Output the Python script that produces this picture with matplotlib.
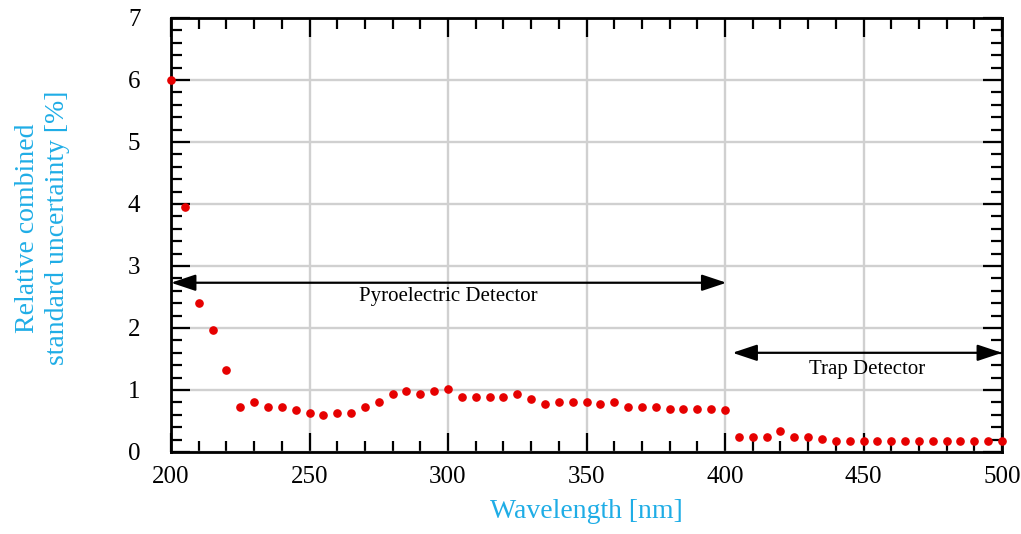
#!/usr/bin/env python3

# Relative combined standard uncertainty vs wavelength, pyroelectric and trap detector ranges.

import matplotlib
matplotlib.use('Agg')
import matplotlib.pyplot as plt
from matplotlib.ticker import MultipleLocator

wavelength = list(range(200, 505, 5))
uncertainty = [6.00, 3.95, 2.40, 1.97, 1.32, 0.72, 0.81, 0.72, 0.72, 0.68,
               0.63, 0.59, 0.63, 0.63, 0.72, 0.81, 0.93, 0.98, 0.93, 0.98,
               1.02, 0.89, 0.89, 0.89, 0.89, 0.93, 0.85, 0.77, 0.81, 0.81,
               0.81, 0.77, 0.81, 0.73, 0.73, 0.73, 0.69, 0.69, 0.69, 0.69,
               0.68, 0.25, 0.25, 0.25, 0.34, 0.25, 0.24, 0.21, 0.17, 0.17,
               0.17, 0.17, 0.17, 0.17, 0.17, 0.17, 0.17, 0.17, 0.17, 0.17,
               0.17]

pyroRange = (200, 400.5)
trapRange = (402.7, 500)
pyroLabel = 'Pyroelectric Detector'
trapLabel = 'Trap Detector'

blue = '#1fade6'
plt.rcParams['font.family'] = ['Liberation Serif', 'DejaVu Serif']

fig = plt.figure(figsize=(10.21, 5.34), dpi=100)
ax = fig.add_axes([171 / 1021, 1 - 452 / 534, 831 / 1021, 434 / 534])

ax.plot(wavelength, uncertainty, 'o', color='#e60000', markersize=5.2, clip_on=False, zorder=5)

ax.set_xlim(200, 500)
ax.set_ylim(0, 7)
ax.xaxis.set_major_locator(MultipleLocator(50))
ax.xaxis.set_minor_locator(MultipleLocator(10))
ax.yaxis.set_major_locator(MultipleLocator(1))
ax.yaxis.set_minor_locator(MultipleLocator(0.2))
ax.grid(True, which='major', color='#d0d0d0', linewidth=1.7)
ax.set_axisbelow(True)

for s in ax.spines.values():
    s.set_linewidth(2.0)
ax.tick_params(which='both', direction='in', top=True, right=True, width=1.6, colors='black')
ax.tick_params(which='major', length=14, labelsize=18)
ax.tick_params(which='minor', length=8)
ax.tick_params(axis='x', pad=10)
ax.tick_params(axis='y', pad=22)

ax.set_xlabel('Wavelength [nm]', fontsize=20, color=blue, labelpad=8)
ax.set_ylabel('Relative combined\nstandard uncertainty [%]', fontsize=20, color=blue, linespacing=1.25)
ax.yaxis.set_label_coords(-0.122, 0.516)

arrowProps = dict(arrowstyle='<|-|>,head_length=1.5,head_width=0.5', color='black', lw=1.6,
                  shrinkA=0, shrinkB=0)
ax.annotate('', xy=(pyroRange[1], 2.73), xytext=(pyroRange[0], 2.73), arrowprops=arrowProps)
ax.text(sum(pyroRange) / 2, 2.5, pyroLabel, fontsize=15, ha='center', va='center')
ax.annotate('', xy=(trapRange[1], 1.6), xytext=(trapRange[0], 1.6), arrowprops=arrowProps)
ax.text(sum(trapRange) / 2, 1.33, trapLabel, fontsize=15, ha='center', va='center')

plt.savefig('out.png', dpi=100)
